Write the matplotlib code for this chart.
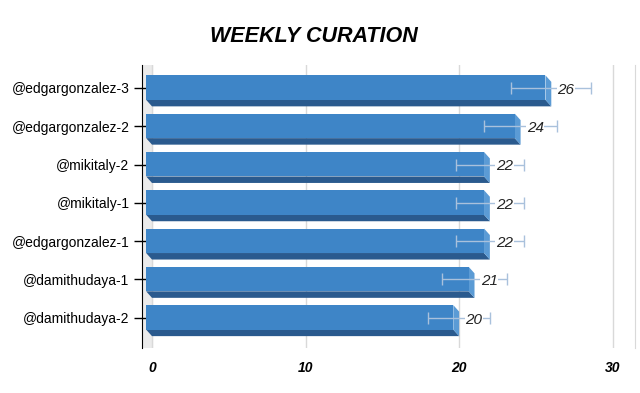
import numpy as np
import matplotlib.pyplot as plt
from matplotlib.patches import Polygon

# data (top to bottom)
users = ['@edgargonzalez-3', '@edgargonzalez-2', '@mikitaly-2', '@mikitaly-1',
         '@edgargonzalez-1', '@damithudaya-1', '@damithudaya-2']
votes = [26, 24, 22, 22, 22, 21, 20]
errors = [2.6, 2.4, 2.2, 2.2, 2.2, 2.1, 2.0]
xticks = [0, 10, 20, 30]

plt.rcParams['font.family'] = ['Liberation Sans', 'DejaVu Sans']

fig = plt.figure(figsize=(6.4, 3.93), dpi=100)
ax = fig.add_axes([142 / 640, 1 - 348 / 393, (635 - 142) / 640, (348 - 65) / 393])

ax.set_xlim(-0.65, 31.45)
ax.set_ylim(6.79, -0.6)

# fake 3d look
dx = 0.38    # depth shift in x units
dy = 0.17    # depth shift in category units
half_top, half_bot = 0.33, 0.31
front = '#3e85c7'
dark = '#2a5a8e'
side = '#5b9bd5'

ax.axvspan(-0.65, 0, color='#ebebeb', zorder=0)
for t in xticks:
    ax.axvline(t, color='#d9d9d9', lw=1, zorder=0.5)

y = np.arange(len(users))
for yi, v, e in zip(y, votes, errors):
    top = yi - half_top
    bot = yi + half_bot
    x0 = -dx
    x1 = v - dx
    ax.add_patch(Polygon([(x0, bot), (x1, bot), (x1 + dx, bot + dy), (x0 + dx, bot + dy)],
                         closed=True, color=dark, lw=0, zorder=2))
    ax.add_patch(Polygon([(x1, top), (x1 + dx, top + dy), (x1 + dx, bot + dy), (x1, bot)],
                         closed=True, color=side, lw=0, zorder=2))
    ax.add_patch(Polygon([(x0, top), (x1, top), (x1, bot), (x0, bot)],
                         closed=True, color=front, lw=0, zorder=3))
    ax.errorbar(v, yi, xerr=e, fmt='none', ecolor='#a9c1dc', elinewidth=1,
                capsize=4.5, capthick=1, zorder=4)
    ax.text(v + 0.4, yi + 0.05, str(v), ha='left', va='center', fontsize=11,
            style='italic', color='#222222', zorder=5,
            bbox=dict(facecolor='white', edgecolor='none', pad=0.5))

ax.set_yticks(y)
ax.set_yticklabels(users, fontsize=10)
ax.set_xticks(xticks)
ax.set_xticklabels([str(t) for t in xticks], fontsize=10, fontweight='bold', style='italic')
ax.tick_params(axis='y', direction='inout', length=12, width=1, pad=3)
ax.tick_params(axis='x', length=0, pad=9)

ax.spines['top'].set_visible(False)
ax.spines['bottom'].set_visible(False)
ax.spines['right'].set_color('#d9d9d9')
ax.spines['left'].set_color('black')

fig.text(314 / 640, 1 - 36 / 393, 'WEEKLY CURATION', ha='center', va='center',
         fontsize=15.5, fontweight='bold', style='italic')

fig.savefig('out.png', dpi=100)
